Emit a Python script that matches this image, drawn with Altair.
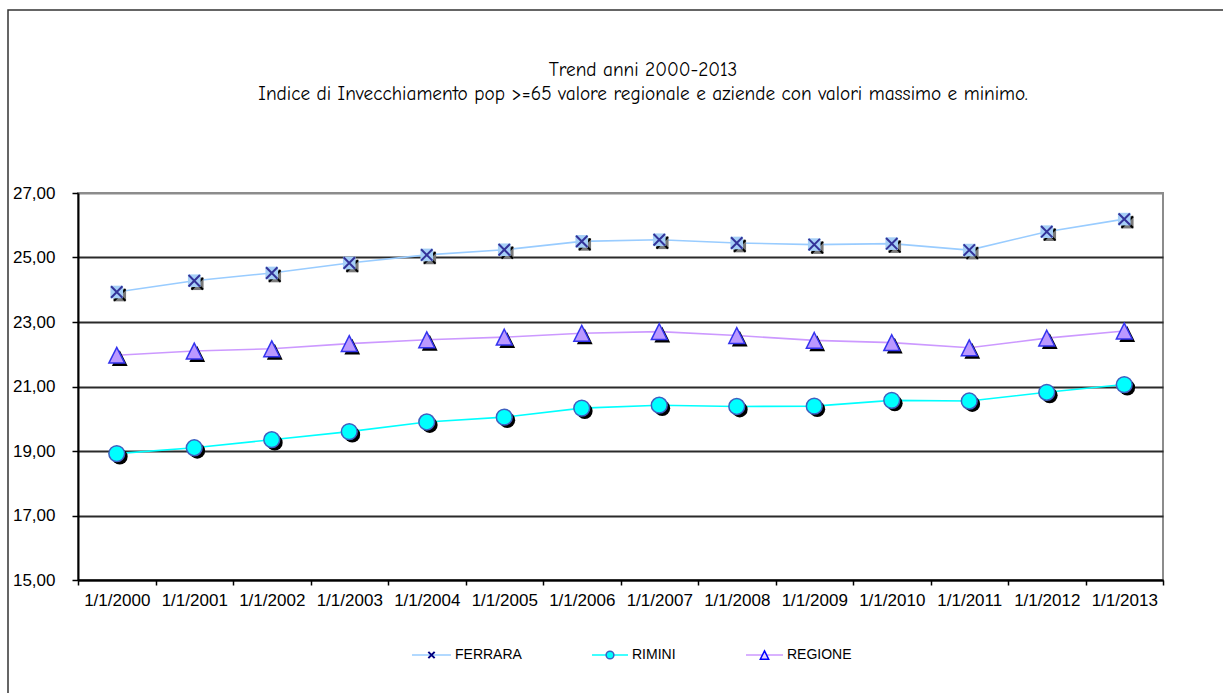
import altair as alt
import pandas as pd

YEARS = ["1/1/2000", "1/1/2001", "1/1/2002", "1/1/2003", "1/1/2004", "1/1/2005", "1/1/2006",
         "1/1/2007", "1/1/2008", "1/1/2009", "1/1/2010", "1/1/2011", "1/1/2012", "1/1/2013"]
FERRARA = [23.93, 24.28, 24.52, 24.83, 25.08, 25.24, 25.50, 25.55, 25.45, 25.40, 25.43, 25.23, 25.80, 26.19]
RIMINI = [18.92, 19.10, 19.35, 19.60, 19.90, 20.05, 20.33, 20.42, 20.38, 20.39, 20.57, 20.55, 20.82, 21.06]
REGIONE = [21.97, 22.10, 22.17, 22.33, 22.45, 22.53, 22.65, 22.70, 22.58, 22.43, 22.36, 22.20, 22.50, 22.72]
SERIES = ["FERRARA", "RIMINI", "REGIONE"]
TITLE = ["Trend anni 2000-2013",
         "Indice di Invecchiamento pop >=65 valore regionale e aziende con valori massimo e minimo."]
Y_TICKS = [15, 17, 19, 21, 23, 25, 27]

W, H = 1085, 387
LABEL_FONT = "Liberation Sans"
TITLE_FONT = "Comic Sans MS, Comic Neue, Lato"

x_enc = alt.X("anno:N", sort=YEARS,
              scale=alt.Scale(type="band", domain=YEARS, paddingInner=0, paddingOuter=0),
              axis=alt.Axis(title=None, labelAngle=0, tickBand="extent", tickSize=5,
                            tickColor="black", tickWidth=1.5, domainColor="black", domainWidth=2,
                            labelFont=LABEL_FONT, labelFontSize=17, labelColor="black",
                            labelPadding=7, grid=False))
y_enc = alt.Y("v:Q", scale=alt.Scale(domain=[15, 27], nice=False, zero=False),
              axis=alt.Axis(title=None, values=Y_TICKS, format=".2f",
                            labelExpr="replace(datum.label, '.', ',')",
                            tickSize=6, tickColor="black", tickWidth=1.5,
                            domainColor="black", domainWidth=2,
                            labelFont=LABEL_FONT, labelFontSize=17, labelColor="black",
                            labelPadding=17, grid=True,
                            gridColor={"condition": {"test": "datum.value == 27", "value": "#8c8c8c"},
                                       "value": "#2a2a2a"},
                            gridWidth=2))


def frame(values, name):
    return pd.DataFrame({"anno": YEARS, "v": values, "serie": name})


df_f = frame(FERRARA, SERIES[0])
df_r = frame(RIMINI, SERIES[1])
df_g = frame(REGIONE, SERIES[2])

X_PATH = "M-1,-1L1,1M-1,1L1,-1"
TRI_PATH = "M0,-1L1,1L-1,1Z"

# FERRARA
bf = alt.Chart(df_f).encode(x=x_enc, y=y_enc)
f_line = bf.mark_line(color="#99CCFF", strokeWidth=1.6)
f_sh_sq = bf.mark_point(shape="square", filled=True, size=160, color="#7a7a7a", opacity=1, xOffset=3, yOffset=3)
f_sh_x = bf.mark_point(shape=X_PATH, filled=False, size=130, stroke="black", strokeWidth=2, opacity=1, xOffset=3, yOffset=3)
f_sq = bf.mark_point(shape="square", filled=True, size=160, color="#A6CFF7", opacity=1)
f_x = bf.mark_point(shape=X_PATH, filled=False, size=130, stroke="#333399", strokeWidth=2, opacity=1)

# RIMINI
br = alt.Chart(df_r).encode(x=x_enc, y=y_enc)
r_line = br.mark_line(color="#00FFFF", strokeWidth=1.6)
r_sh = br.mark_point(shape="circle", filled=True, size=250, color="black", opacity=1, xOffset=3, yOffset=3)
r_pt = br.mark_point(shape="circle", filled=True, size=250, fill="#00FFFF", stroke="#3F5FC0",
                     strokeWidth=1.5, opacity=1)

# REGIONE
bg = alt.Chart(df_g).encode(x=x_enc, y=y_enc)
g_line = bg.mark_line(color="#CC99FF", strokeWidth=1.6)
g_sh = bg.mark_point(shape=TRI_PATH, filled=True, size=250, color="black", opacity=1, xOffset=3, yOffset=3)
g_pt = bg.mark_point(shape=TRI_PATH, filled=True, size=250, fill="#BB99FF", stroke="#3333EE",
                     strokeWidth=1.5, opacity=1)

# Title
one = pd.DataFrame({"t1": [TITLE[0]], "t2": [TITLE[1]]})
t1 = alt.Chart(one).mark_text(font=TITLE_FONT, fontSize=19.3, color="black", align="center",
                              baseline="middle").encode(x=alt.value(565), y=alt.value(-123), text="t1:N")
t2 = alt.Chart(one).mark_text(font=TITLE_FONT, fontSize=19.3, color="black", align="center",
                              baseline="middle").encode(x=alt.value(565), y=alt.value(-99), text="t2:N")

# Outer frame
border = alt.Chart(one).mark_rect(filled=False, stroke="#333333", strokeWidth=1.5).encode(
    x=alt.value(-70), x2=alt.value(1300), y=alt.value(-183), y2=alt.value(800))

# Legend
LY = 462


def legend_item(name, x0, x1, line_color, marker_layers):
    d = pd.DataFrame({"s": [name]})
    base = alt.Chart(d)
    ln = base.mark_rule(color=line_color, strokeWidth=1.6).encode(
        x=alt.value(x0), x2=alt.value(x1), y=alt.value(LY))
    tx = base.mark_text(font=LABEL_FONT, fontSize=14, color="black", align="left",
                        baseline="middle").encode(x=alt.value(x1 + 4), y=alt.value(LY), text="s:N")
    mk = [m(base).encode(x=alt.value((x0 + x1) / 2), y=alt.value(LY)) for m in marker_layers]
    return [ln] + mk + [tx]


leg = []
leg += legend_item(SERIES[0], 334, 373, "#99CCFF",
                   [lambda b: b.mark_point(shape=X_PATH, filled=False, size=40, stroke="#000080",
                                           strokeWidth=2, opacity=1)])
leg += legend_item(SERIES[1], 514, 550, "#00FFFF",
                   [lambda b: b.mark_point(shape="circle", filled=True, size=60, fill="#00FFFF",
                                           stroke="#3F5FC0", strokeWidth=1.5, opacity=1)])
leg += legend_item(SERIES[2], 668, 705, "#CC99FF",
                   [lambda b: b.mark_point(shape=TRI_PATH, filled=True, size=70, fill="#E0D0FF",
                                           stroke="#0000FF", strokeWidth=1.5, opacity=1)])

chart = alt.layer(
    border, t1, t2,
    f_line, f_sh_sq, f_sh_x, f_sq, f_x,
    g_line, g_sh, g_pt,
    r_line, r_sh, r_pt,
    *leg
).properties(
    width=W, height=H,
    autosize=alt.AutoSizeParams(type="none"),
    padding={"left": 78, "top": 193, "right": 60, "bottom": 113},
    background="white",
).configure_view(stroke="#8c8c8c", strokeWidth=2)

chart.save("out.html", embed_options={"renderer": "svg", "actions": False})
